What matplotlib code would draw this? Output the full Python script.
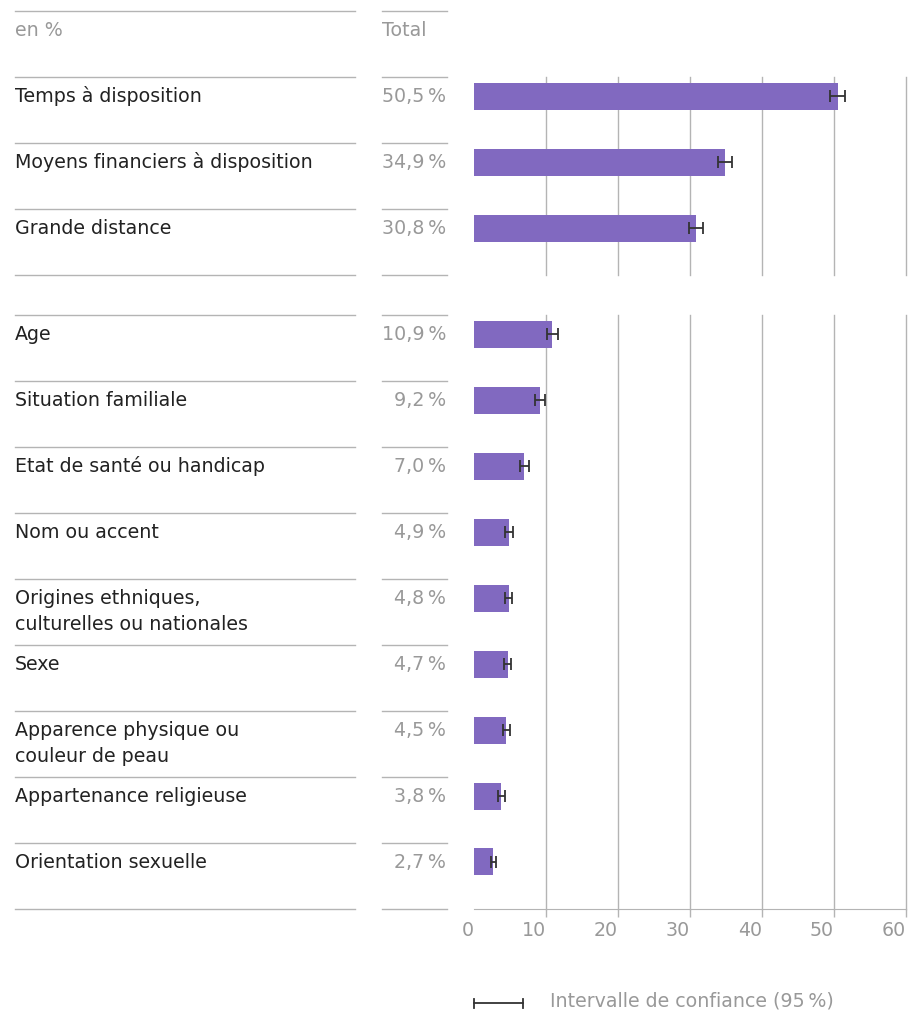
#!/usr/bin/env python3
"""Motifs de renoncement: barres horizontales avec intervalle de confiance."""

import matplotlib
matplotlib.use('Agg')
from matplotlib import pyplot as plt
from matplotlib import transforms
from matplotlib.lines import Line2D


# Premier groupe de motifs.
LABELS_1 = ['Temps à disposition',
            'Moyens financiers à disposition',
            'Grande distance']
VALUES_1 = [50.5, 34.9, 30.8]
CI_1 = [1.0, 1.0, 0.95]

# Second groupe: caracteristiques personnelles.
LABELS_2 = ['Age',
            'Situation familiale',
            'Etat de santé ou handicap',
            'Nom ou accent',
            'Origines ethniques,\nculturelles ou nationales',
            'Sexe',
            'Apparence physique ou\ncouleur de peau',
            'Appartenance religieuse',
            'Orientation sexuelle']
VALUES_2 = [10.9, 9.2, 7.0, 4.9, 4.8, 4.7, 4.5, 3.8, 2.7]
CI_2 = [0.75, 0.7, 0.65, 0.55, 0.5, 0.5, 0.5, 0.45, 0.4]

XTICKS = [0, 10, 20, 30, 40, 50, 60]

W, H = 910, 1011
ROW = 66.0
BAR_COLOR = '#8169c0'
LINE_COLOR = '#b4b4b4'
GREY_TEXT = '#999999'
DARK_TEXT = '#222222'
FS = 13.7


def fx(px):
    return px / W


def fy(py):
    return 1 - py / H


def fmt(v):
    return '{:.1f}'.format(v).replace('.', ',') + '\u2009%'


def draw_group(fig, top, labels, values, ci, last=False):
    n = len(labels)
    ax = fig.add_axes([fx(474), fy(top + n * ROW), fx(906) - fx(474),
                       n * ROW / H])
    ax.set_xlim(0, 60)
    ax.set_ylim(n, 0)

    pos = [k + 19 / ROW for k in range(n)]
    ax.barh(pos, values, height=27 / ROW, color=BAR_COLOR, zorder=2)
    ax.errorbar(values, pos, xerr=ci, fmt='none', ecolor='#333333',
                elinewidth=1.3, capsize=4.5, capthick=1.3, zorder=3)

    ax.set_xticks(XTICKS)
    ax.xaxis.grid(True, color=LINE_COLOR, linewidth=1)
    for gl in ax.xaxis.get_gridlines():
        gl.set_clip_on(False)
    ax.xaxis.get_gridlines()[0].set_visible(False)
    ax.set_axisbelow(True)
    ax.set_yticks([])
    for side in ['top', 'left', 'right']:
        ax.spines[side].set_visible(False)
    if last:
        ax.spines['bottom'].set_color(LINE_COLOR)
        ax.tick_params(axis='x', direction='out', length=6, width=1,
                       color=LINE_COLOR, pad=3, labelsize=FS,
                       labelcolor=GREY_TEXT)
        ax.set_xticklabels([str(t) for t in XTICKS], ha='right')
        ax.xaxis.get_major_ticks()[0].tick1line.set_visible(False)
    else:
        ax.spines['bottom'].set_visible(False)
        ax.tick_params(axis='x', length=0, labelbottom=False)

    # Table on the left: rules, labels and totals.
    trans = transforms.blended_transform_factory(fig.transFigure, ax.transData)
    for k in range(n + 1):
        for x0, x1 in [(15, 355), (382, 447)]:
            ax.add_line(Line2D([fx(x0), fx(x1)], [k, k], transform=trans,
                               color=LINE_COLOR, linewidth=1, clip_on=False))
    for k, (lab, val) in enumerate(zip(labels, values)):
        for j, part in enumerate(lab.split('\n')):
            ax.text(fx(15), pos[k] + j * 26 / ROW, part, transform=trans,
                    ha='left', va='center', fontsize=FS, color=DARK_TEXT)
        ax.text(fx(446), pos[k], fmt(val), transform=trans, ha='right',
                va='center', fontsize=FS, color=GREY_TEXT)
    return ax


def main():
    fig = plt.figure(figsize=(W / 100, H / 100), dpi=100)

    # Header row.
    for x0, x1 in [(15, 355), (382, 447)]:
        fig.add_artist(Line2D([fx(x0), fx(x1)], [fy(11), fy(11)],
                              color=LINE_COLOR, linewidth=1))
    fig.text(fx(15), fy(30), 'en %', ha='left', va='center', fontsize=FS,
             color=GREY_TEXT)
    fig.text(fx(382), fy(30), 'Total', ha='left', va='center', fontsize=FS,
             color=GREY_TEXT)

    draw_group(fig, 77, LABELS_1, VALUES_1, CI_1)
    draw_group(fig, 315, LABELS_2, VALUES_2, CI_2, last=True)

    # Legend for the confidence interval.
    ly = fy(1003)
    fig.add_artist(Line2D([fx(474), fx(523)], [ly, ly], color='#333333',
                          linewidth=1.3))
    for xc in [474, 523]:
        fig.add_artist(Line2D([fx(xc), fx(xc)], [ly - 4.5 / H, ly + 4.5 / H],
                              color='#333333', linewidth=1.3))
    fig.text(fx(550), fy(1001), 'Intervalle de confiance (95\u2009%)',
             ha='left', va='center', fontsize=FS, color=GREY_TEXT)

    fig.savefig('out.png', dpi=100)


if __name__ == '__main__':
    main()
